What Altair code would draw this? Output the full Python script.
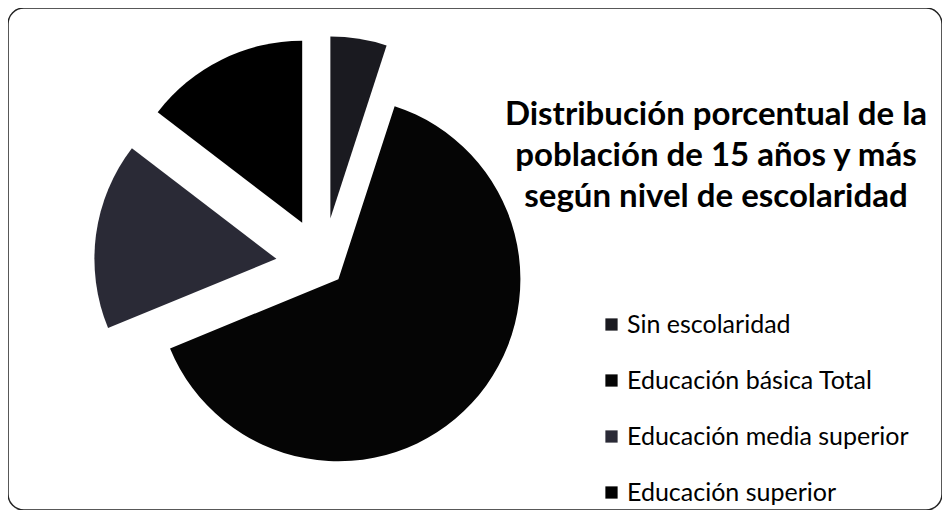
import math
import altair as alt
import pandas as pd

# ---- data ----
categories = [
    "Sin escolaridad",
    "Educación básica Total",
    "Educación media superior",
    "Educación superior",
]
values = [5.0, 63.8, 16.6, 14.6]
title_lines = [
    "Distribución porcentual de la",
    "población de 15 años y más",
    "según nivel de escolaridad",
]

# ---- styles ----
colors = ["#1a1a20", "#050505", "#2a2a36", "#000000"]
CX, CY, R = 315, 257, 182          # pie centre / radius (pixels)
EXPLODE_BIG, EXPLODE = 21, 47      # explosion distances
FONT = "Lato"

df = pd.DataFrame({"cat": categories, "value": values, "order": list(range(len(categories)))})
total = sum(values)

pie = (
    alt.Chart(df)
    .transform_window(cum="sum(value)", sort=[alt.SortField("order")], frame=[None, 0])
    .transform_calculate(
        start="datum.cum - datum.value",
        mid=f"(datum.cum - datum.value / 2) / {total} * 2 * PI",
        d=f"datum.cat == '{categories[1]}' ? {EXPLODE_BIG} : {EXPLODE}",
        px=f"{CX} + datum.d * sin(datum.mid)",
        py=f"{CY} - datum.d * cos(datum.mid)",
    )
    .mark_arc(outerRadius=R)
    .encode(
        theta=alt.Theta("start:Q", scale=alt.Scale(domain=[0, total], range=[0, 2 * math.pi])),
        theta2="cum:Q",
        x=alt.X("px:Q", scale=None),
        y=alt.Y("py:Q", scale=None),
        color=alt.Color(
            "cat:N",
            sort=categories,
            scale=alt.Scale(domain=categories, range=colors),
            title=None,
            legend=alt.Legend(
                orient="none",
                legendX=591,
                legendY=304,
                symbolType="square",
                symbolSize=150,
                symbolStrokeWidth=0,
                labelFont=FONT,
                labelFontSize=25,
                labelColor="black",
                labelOffset=3,
                rowPadding=30,
                labelLimit=400,
            ),
        ),
        order="order:Q",
    )
)

tdf = pd.DataFrame({"line": title_lines, "i": list(range(len(title_lines)))})
title = (
    alt.Chart(tdf)
    .transform_calculate(ty="107 + datum.i * 41")
    .mark_text(font=FONT, fontSize=33, fontWeight="bold", color="black", align="center", baseline="middle")
    .encode(text="line:N", x=alt.value(708), y=alt.Y("ty:Q", scale=None))
)

chart = (
    alt.layer(pie, title)
    .properties(width=934, height=502, padding=0)
    .configure_view(stroke="#222222", strokeWidth=1.5, cornerRadius=16)
)

chart.save("out.html", embed_options={"renderer": "svg", "actions": False})
